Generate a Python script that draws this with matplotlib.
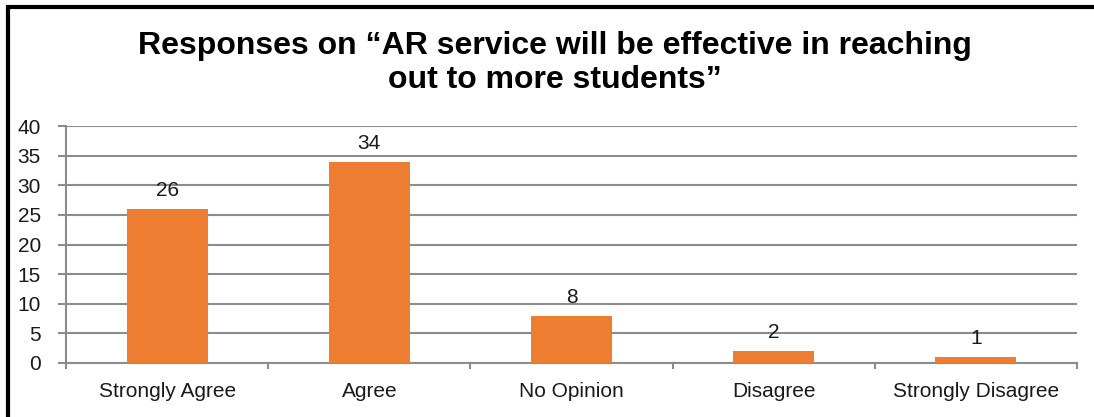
"""
Bar chart of survey responses on AR service effectiveness.
"""
import matplotlib.pyplot as plt
from matplotlib.patches import Rectangle

categories = ["Strongly Agree", "Agree", "No Opinion", "Disagree", "Strongly Disagree"]
counts = [26, 34, 8, 2, 1]
y_ticks = [0, 5, 10, 15, 20, 25, 30, 35, 40]

title = "Responses on \u201cAR service will be effective in reaching\nout to more students\u201d"

plt.rcParams["font.family"] = ["Liberation Sans", "DejaVu Sans"]

fig = plt.figure(figsize=(10.94, 4.17), dpi=100)
ax = fig.add_axes([66 / 1094, 1 - 363 / 417, (1077 - 66) / 1094, (363 - 126) / 417])

x = list(range(len(categories)))
bars = ax.bar(x, counts, width=0.4, color="#ED7D31", zorder=3)
for b, v in zip(bars, counts):
    ax.text(b.get_x() + b.get_width() / 2, v + 1.5, str(v), ha="center", va="bottom",
            fontsize=15, color="#1a1a1a")

ax.set_xlim(-0.5, len(categories) - 0.5)
ax.set_ylim(0, 40)
ax.set_yticks(y_ticks)
ax.set_yticklabels([str(t) for t in y_ticks], fontsize=15)
ax.yaxis.grid(True, color="#8c8c8c", linewidth=1.5, zorder=0)
ax.tick_params(axis="y", length=6, width=1.5, color="#8c8c8c", pad=12, labelcolor="#1a1a1a")

# category labels, with tick marks between categories
ax.set_xticks(x)
ax.set_xticklabels(categories, fontsize=15, color="#1a1a1a")
ax.tick_params(axis="x", length=0, pad=14)
for b in [i - 0.5 for i in range(len(categories) + 1)]:
    ax.plot([b, b], [0, -0.9], color="#8c8c8c", linewidth=1.5, clip_on=False)

for side in ["top", "right"]:
    ax.spines[side].set_visible(False)
for side in ["left", "bottom"]:
    ax.spines[side].set_color("#8c8c8c")
    ax.spines[side].set_linewidth(1.5)

fig.text(555 / 1094, 1 - 63 / 417, title, ha="center", va="center", fontsize=23,
         fontweight="bold", linespacing=1.2)

# black frame on the top and left edges
fig.add_artist(Rectangle((8 / 1094, -0.1), 1.2, 1 - 7 / 417 + 0.1, transform=fig.transFigure,
                         fill=False, edgecolor="black", linewidth=3))

fig.savefig("out.png", dpi=100)
